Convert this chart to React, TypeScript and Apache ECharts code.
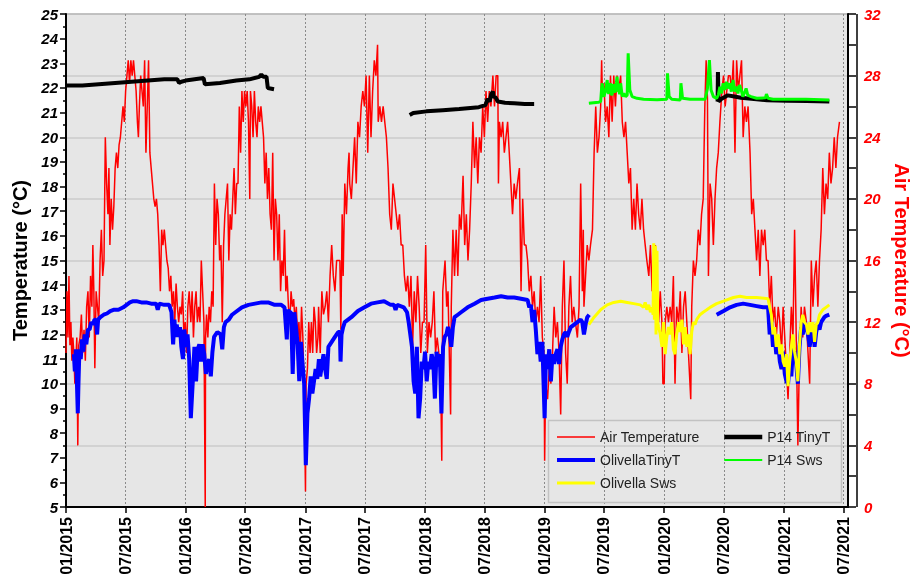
import React, { useEffect, useRef } from "react";
import * as echarts from "echarts";

// x values are days since 01/01/2015
const tickLabels = ["01/2015", "07/2015", "01/2016", "07/2016", "01/2017", "07/2017", "01/2018", "07/2018", "01/2019", "07/2019", "01/2020", "07/2020", "01/2021", "07/2021"];

// Air temperature (right axis, °C)
const airTemperature: number[][] = [
  [0, 10], [3, 14], [6, 11], [9, 15], [12, 10.5], [15, 12], [18, 9.5], [21, 11], [24, 10], [27, 8], [30, 9.5], [33, 11], [36, 4], [39, 10.5], [43, 11], [47, 12.5], [51, 10], [55, 11.5], [59, 9.5], [63, 13], [67, 14], [71, 11], [75, 15], [79, 13], [82, 17], [85, 14], [88, 9], [92, 14], [96, 13], [100, 12], [104, 16], [108, 18], [112, 15], [116, 16], [120, 24], [124, 21], [128, 19], [131, 22], [134, 17], [138, 20], [142, 18], [146, 19.5], [150, 22], [154, 23], [158, 22], [162, 23.5], [166, 24], [170, 25], [174, 26], [178, 25], [182, 27], [186, 28], [190, 29], [194, 27.5], [198, 29], [202, 28], [206, 29], [210, 28], [214, 27], [218, 25], [221, 24], [224, 26], [228, 28], [232, 27], [236, 26], [240, 29], [244, 23], [248, 26], [252, 29], [256, 23], [260, 22], [264, 21], [268, 20], [272, 19.5], [276, 20], [280, 19], [284, 17], [288, 14], [292, 18], [296, 17], [300, 18], [304, 17], [308, 16], [312, 15.5], [316, 14], [320, 15], [324, 13], [328, 14], [332, 12], [336, 14.5], [340, 13], [344, 12], [348, 13], [352, 12.5], [356, 14], [360, 11], [364, 12], [368, 10], [372, 13], [376, 14],
  [377, 14], [381, 12], [385, 14], [389, 11], [393, 13], [397, 14], [401, 12], [405, 13], [409, 12], [413, 16], [417, 14], [421, 12], [425, 0], [426, 11], [429, 12.5], [433, 11], [437, 13], [441, 12], [445, 14], [449, 13], [453, 21], [457, 17], [461, 20], [465, 19], [469, 16], [473, 17], [477, 12], [481, 17], [485, 19], [489, 20], [493, 21], [497, 16], [501, 19], [505, 18], [509, 20], [513, 22], [517, 19], [521, 21], [525, 21], [529, 26], [533, 23], [537, 27], [541, 25], [545, 27], [549, 26], [553, 27], [557, 25], [561, 20], [563, 27], [567, 26], [571, 24], [575, 27], [579, 25], [583, 24], [587, 26], [591, 25], [595, 26], [599, 25], [603, 24], [607, 21], [611, 23], [615, 20], [619, 22], [623, 19], [627, 18], [631, 23], [635, 16], [639, 20], [643, 19], [647, 16], [651, 19], [655, 14], [659, 16], [663, 15], [667, 18], [671, 14], [675, 15], [679, 13], [683, 12], [687, 14], [691, 13], [695, 13.5], [699, 12], [703, 13], [707, 11], [711, 12], [715, 10], [719, 13], [723, 11], [727, 7.3], [731, 1], [733, 8], [737, 9], [741, 12], [745, 10], [749, 12], [753, 10], [757, 13], [761, 12], [765, 10], [769, 11],
  [771, 13], [776, 10], [781, 14], [786, 12.5], [791, 13], [796, 14], [801, 12], [806, 15], [811, 17], [816, 15], [821, 14], [826, 16], [831, 16], [836, 16], [839, 11.5], [843, 19], [846, 15], [851, 21], [856, 19], [861, 22], [864, 23], [866, 21], [871, 20], [876, 22], [881, 24], [886, 21], [891, 25], [896, 24], [901, 26], [906, 27], [911, 26], [916, 28], [921, 23], [926, 28], [931, 24], [936, 27], [941, 29], [946, 28], [951, 30], [953, 25], [958, 26], [963, 25], [968, 26], [973, 25], [978, 24], [983, 22], [988, 19], [993, 18], [998, 21], [1003, 20], [1008, 19], [1013, 18], [1018, 19], [1023, 17], [1028, 17], [1033, 15], [1038, 14], [1043, 15], [1048, 13], [1053, 15], [1058, 10.5], [1063, 14], [1068, 12], [1073, 15], [1078, 13], [1083, 10], [1088, 12], [1093, 12], [1098, 17], [1103, 10], [1108, 12], [1113, 11], [1118, 12], [1123, 14], [1128, 10], [1133, 11], [1138, 10], [1143, 9.5], [1147, 3], [1150, 14], [1157, 16], [1162, 13],
  [1166, 14], [1174, 6], [1176, 13], [1181, 18], [1186, 15], [1191, 18], [1196, 15], [1201, 19], [1206, 18], [1212, 21.5], [1217, 17], [1222, 19], [1227, 16], [1232, 18], [1237, 21], [1242, 25], [1247, 22], [1252, 24], [1257, 21], [1262, 24], [1267, 23], [1272, 26], [1277, 24], [1282, 27], [1287, 25], [1292, 27], [1297, 26], [1303, 28], [1308, 26], [1313, 28], [1318, 28], [1320, 21], [1323, 25], [1328, 24], [1333, 25], [1338, 23], [1343, 24], [1348, 25], [1353, 23], [1358, 21], [1363, 19], [1368, 21], [1373, 20], [1378, 21], [1384, 22], [1389, 14], [1394, 20], [1399, 17], [1404, 17], [1409, 16], [1414, 14], [1419, 15], [1424, 13], [1429, 14], [1434, 12], [1439, 13], [1444, 12], [1449, 15], [1454, 11], [1459, 10], [1461, 3], [1464, 8], [1470, 7], [1475, 9], [1480, 8], [1485, 10], [1490, 13], [1495, 11], [1500, 12], [1505, 10], [1510, 6], [1515, 13], [1520, 16], [1525, 10], [1530, 8], [1535, 13], [1540, 15], [1545, 12], [1550, 13], [1555, 12],
  [1561, 11], [1566, 13], [1571, 21], [1576, 14], [1579, 18], [1581, 13], [1586, 15], [1591, 17], [1596, 16], [1601, 17], [1607, 18], [1612, 23], [1617, 26], [1622, 23], [1627, 24], [1632, 26], [1635, 29], [1637, 27], [1642, 27.5], [1647, 25], [1652, 26], [1657, 24], [1662, 28], [1667, 25], [1672, 28], [1677, 26], [1682, 28], [1687, 27], [1693, 28], [1698, 25], [1703, 24], [1708, 25], [1713, 23], [1718, 21], [1723, 22], [1728, 18], [1733, 20], [1738, 18], [1743, 21], [1748, 19], [1753, 18], [1758, 20], [1763, 18], [1768, 17], [1773, 16], [1779, 15], [1784, 17], [1789, 14], [1794, 15], [1799, 17], [1804, 13], [1809, 12], [1814, 14], [1819, 12], [1822, 8], [1826, 8], [1829, 12], [1834, 13], [1839, 12], [1844, 13], [1849, 12], [1854, 15], [1859, 8], [1864, 13], [1870, 12], [1875, 14], [1880, 10], [1885, 13], [1890, 14], [1895, 12], [1900, 10], [1907, 7], [1910, 13], [1915, 16], [1920, 15], [1925, 16], [1930, 18], [1935, 17], [1940, 19], [1945, 20], [1950, 26], [1954, 29],
  [1958, 26.5], [1961, 15], [1966, 21], [1971, 20], [1976, 17], [1981, 20], [1986, 22], [1991, 23], [1996, 25], [2002, 27], [2007, 28], [2012, 26], [2017, 27], [2022, 28], [2027, 28], [2032, 27], [2037, 29], [2042, 23], [2047, 29], [2052, 27], [2057, 28], [2062, 29], [2067, 24], [2072, 26], [2077, 25], [2082, 26], [2088, 23], [2093, 19], [2098, 20], [2103, 18], [2108, 16], [2113, 18], [2118, 15], [2123, 18], [2128, 17], [2133, 18], [2138, 16], [2143, 16], [2148, 13], [2153, 15], [2158, 12], [2163, 13], [2168, 11], [2174, 13], [2179, 12], [2184, 10], [2189, 13], [2194, 11], [2199, 9], [2204, 7], [2209, 10], [2214, 13], [2219, 11], [2224, 18], [2229, 11], [2234, 4], [2239, 10], [2244, 13], [2249, 11], [2254, 13], [2260, 12], [2265, 10], [2270, 8], [2275, 16], [2280, 13], [2285, 15], [2290, 16], [2295, 13], [2300, 16], [2305, 18], [2310, 22], [2315, 19], [2320, 21], [2325, 20], [2330, 23], [2335, 21], [2340, 22], [2345, 24], [2350, 22], [2355, 24], [2361, 25]
];

// OlivellaTinyT (left axis)
const olivellaTinyT_2015_2019: number[][] = [
  [24, 11.2], [27, 10.5], [30, 11.4], [33, 10.2], [36, 8.8], [38, 10], [41, 11.4], [45, 11], [49, 11.8], [53, 11.3], [57, 12], [62, 11.6], [67, 12.2], [72, 12.2], [77, 12.5], [82, 12.4], [87, 12.6], [91, 12.6], [95, 12.0], [98, 12.6], [105, 12.7], [115, 12.8], [125, 12.85], [135, 12.95], [145, 13.0], [160, 13.0], [175, 13.1], [185, 13.2], [195, 13.3], [205, 13.35], [215, 13.35], [230, 13.3], [245, 13.3], [260, 13.25], [275, 13.25], [280, 13.0], [285, 13.25], [300, 13.2], [315, 13.2], [322, 12.9], [327, 11.6], [331, 12.6], [334, 11.9], [338, 12.4], [343, 11.9], [348, 12.3], [352, 11.5], [357, 11.0], [361, 12.2], [366, 11.5], [371, 12.0], [376, 11.0],
  [381, 8.6], [387, 10.1], [392, 11.5], [397, 10.1], [402, 11.4], [407, 11.6], [412, 10.9], [417, 11.6], [422, 11.2], [427, 10.4], [432, 10.8], [437, 11.0], [442, 10.3], [447, 11.3], [452, 11.9], [462, 12.1], [472, 12.0], [477, 11.4], [482, 12.3], [487, 12.5], [497, 12.6], [507, 12.8], [517, 12.9], [537, 13.1], [557, 13.2], [577, 13.25], [597, 13.3], [617, 13.3], [637, 13.2], [657, 13.2], [667, 13.1], [674, 11.8], [677, 13.0], [682, 12.9], [687, 12.9], [692, 10.4], [697, 12.9], [702, 12.3], [707, 11.6], [712, 10.1], [717, 11.7], [722, 10.8], [727, 10.0], [732, 6.7], [737, 8.8], [742, 9.4], [747, 10.3], [752, 9.6], [757, 10.1], [762, 10.6], [767, 10.2],
  [772, 11.0], [776, 10.3], [786, 11.2], [791, 10.6], [796, 10.2], [801, 11.5], [811, 11.7], [821, 11.9], [831, 12.1], [836, 12.1], [838, 10.9], [841, 12.0], [846, 12.3], [851, 12.5], [871, 12.7], [891, 12.95], [911, 13.1], [931, 13.25], [951, 13.3], [971, 13.35], [991, 13.2], [1001, 13.2], [1006, 13.0], [1011, 13.2], [1031, 13.1], [1041, 12.9], [1046, 12.5], [1051, 12.0], [1056, 11.5], [1061, 10.1], [1066, 9.6], [1071, 11.5], [1076, 8.6], [1081, 9.4], [1086, 10.9], [1091, 10.6], [1096, 11.3], [1101, 10.1], [1106, 10.9], [1111, 10.6], [1116, 11.2], [1121, 10.9], [1126, 9.4], [1131, 11.3], [1136, 10.7], [1141, 11.2], [1146, 8.8], [1151, 11.5], [1156, 11.9], [1161, 12.0],
  [1166, 12.3], [1171, 12.0], [1176, 11.5], [1181, 12.3], [1186, 12.7], [1196, 12.8], [1206, 12.9], [1226, 13.1], [1247, 13.25], [1267, 13.4], [1287, 13.45], [1308, 13.5], [1328, 13.55], [1348, 13.5], [1368, 13.5], [1389, 13.45], [1409, 13.4], [1414, 13.1], [1419, 13.2], [1424, 12.5], [1429, 13.0], [1434, 12.2], [1439, 11.2], [1444, 11.7], [1449, 10.9], [1454, 11.7], [1461, 8.6], [1465, 11.2], [1470, 10.6], [1475, 11.4], [1480, 10.1], [1485, 11.2], [1490, 10.8], [1495, 11.2], [1500, 11.4], [1505, 10.8], [1510, 11.5], [1515, 11.8], [1520, 12.0], [1525, 12.1], [1530, 11.9], [1535, 12.1], [1541, 12.3], [1551, 12.4], [1561, 12.5], [1571, 12.6], [1576, 12.5], [1581, 12.0], [1586, 12.4], [1591, 12.7], [1597, 12.8]
];
const olivellaTinyT_2020_2021: number[][] = [
  [1986, 12.8], [2007, 12.95], [2027, 13.1], [2047, 13.2], [2067, 13.25], [2088, 13.2], [2108, 13.15], [2128, 13.1], [2143, 13.1], [2148, 12.0], [2153, 12.5], [2158, 11.5], [2163, 12.0], [2168, 11.2], [2174, 11.6], [2179, 10.9], [2184, 10.6], [2189, 11.3], [2194, 10.4], [2199, 10.1], [2204, 10.0], [2209, 10.8], [2214, 10.3], [2219, 11.5], [2224, 11.3], [2229, 10.8], [2234, 10.0], [2239, 11.5], [2244, 12.3], [2249, 12.0], [2254, 12.5], [2260, 12.3], [2265, 12.0], [2270, 11.5], [2275, 12.0], [2280, 12.4], [2285, 11.5], [2290, 12.1], [2295, 12.4], [2300, 12.2], [2305, 12.5], [2310, 12.6], [2315, 12.7], [2320, 12.75], [2330, 12.8]
];

// Olivella Sws (left axis)
const olivellaSws: number[][] = [
  [1596, 12.4], [1612, 12.7], [1632, 13.0], [1652, 13.2], [1672, 13.3], [1693, 13.35], [1713, 13.3], [1733, 13.25], [1753, 13.2], [1763, 13.1], [1768, 13.3], [1773, 13.0], [1779, 13.2], [1784, 12.9], [1789, 13.1], [1792, 12.8], [1794, 15.7], [1796, 12.6], [1799, 15.6], [1801, 12.0], [1804, 15.4], [1806, 12.5], [1809, 12.3], [1814, 12.0], [1819, 11.5], [1824, 12.5], [1829, 11.2], [1834, 11.9], [1839, 12.3], [1844, 12.0], [1849, 12.5], [1854, 11.4], [1859, 11.2], [1864, 12.0], [1870, 12.5], [1875, 12.1], [1880, 12.6], [1885, 11.6], [1890, 12.3], [1895, 11.5], [1900, 12.0], [1905, 11.2], [1910, 12.1], [1915, 12.5], [1920, 12.4], [1925, 12.6], [1935, 12.8], [1945, 12.9], [1956, 13.0],
  [1966, 13.1], [1986, 13.25], [2007, 13.35], [2037, 13.5], [2057, 13.55], [2077, 13.5], [2108, 13.5], [2143, 13.45], [2148, 13.1], [2153, 12.8], [2158, 12.0], [2163, 12.3], [2168, 11.5], [2174, 12.0], [2179, 11.2], [2184, 11.6], [2189, 10.9], [2194, 10.7], [2199, 11.2], [2204, 9.9], [2209, 10.9], [2214, 11.5], [2219, 12.0], [2224, 11.3], [2229, 10.9], [2234, 10.1], [2239, 11.6], [2244, 12.5], [2249, 12.8], [2254, 12.5], [2260, 12.4], [2265, 12.0], [2270, 12.5], [2275, 12.1], [2280, 12.5], [2285, 11.7], [2290, 12.4], [2295, 12.5], [2300, 12.8], [2305, 12.9], [2310, 13.0], [2320, 13.1], [2330, 13.2]
];

// P14 TinyT (left axis)
const p14TinyT_2015_2016: number[][] = [
  [0, 22.1], [50, 22.1], [100, 22.15], [150, 22.2], [200, 22.25], [250, 22.3], [300, 22.35], [335, 22.35], [340, 22.35], [345, 22.2], [352, 22.25], [365, 22.3], [420, 22.4], [424, 22.15], [470, 22.2], [520, 22.3], [560, 22.35], [590, 22.45], [596, 22.55], [602, 22.45], [612, 22.45], [616, 22.0], [635, 21.95]
];
const p14TinyT_2017_2018: number[][] = [
  [1049, 20.9], [1060, 20.98], [1100, 21.05], [1150, 21.1], [1200, 21.15], [1260, 21.22], [1280, 21.3], [1287, 21.55], [1293, 21.45], [1298, 21.75], [1303, 21.85], [1306, 21.6], [1310, 21.65], [1318, 21.45], [1340, 21.4], [1368, 21.38], [1400, 21.35], [1429, 21.35]
];
const p14TinyT_2020_2021: number[][] = [
  [1989, 21.45], [1990, 22.65], [1992, 21.45], [2000, 21.55], [2020, 21.7], [2040, 21.65], [2060, 21.6], [2100, 21.55], [2140, 21.5], [2200, 21.48], [2260, 21.47], [2330, 21.45]
];

// P14 Sws (left axis)
const p14Sws: number[][] = [
  [1596, 21.38], [1625, 21.42], [1632, 21.45], [1635, 22.0], [1637, 22.19], [1640, 21.7], [1642, 21.65], [1647, 21.9], [1652, 22.32], [1655, 21.8], [1657, 21.78], [1660, 22.1], [1662, 22.19], [1665, 21.75], [1667, 21.71], [1670, 22.15], [1672, 22.05], [1675, 21.8], [1677, 21.98], [1680, 22.2], [1682, 22.46], [1685, 21.85], [1687, 21.92], [1690, 21.75], [1693, 22.19], [1698, 21.65], [1703, 21.78], [1708, 21.65], [1713, 21.71], [1716, 23.41], [1721, 21.92], [1728, 21.65], [1743, 21.58], [1763, 21.54], [1804, 21.52], [1834, 21.54], [1836, 22.59], [1841, 21.65], [1849, 21.54], [1875, 21.51], [1877, 22.19], [1882, 21.58], [1905, 21.54], [1951, 21.54], [1958, 21.98], [1964, 23.13], [1969, 21.92], [1976, 21.65], [1986, 21.58], [1991, 21.71], [1996, 22.05], [2001, 21.78], [2006, 22.19], [2011, 21.92], [2016, 22.25], [2021, 21.98], [2026, 22.19], [2031, 21.85], [2036, 22.32], [2041, 21.85], [2046, 22.05], [2051, 21.78], [2056, 22.12], [2061, 21.92], [2066, 21.65], [2076, 21.98], [2081, 21.71], [2091, 21.65], [2108, 21.58], [2135, 21.6], [2138, 21.75], [2143, 21.58], [2158, 21.54], [2209, 21.54], [2259, 21.54], [2330, 21.51]
];

const FONT = "Liberation Sans";

function dayOf(label: string): number {
  const [m, y] = label.split("/").map(Number);
  return Math.round((Date.UTC(y, m - 1, 1) - Date.UTC(2015, 0, 1)) / 86400000);
}

function joinSegments(...segs: number[][][]): any[] {
  const out: any[] = [];
  segs.forEach((s, i) => {
    if (i > 0) out.push([s[0][0] - 1, "-"]);
    s.forEach((p) => out.push(p));
  });
  return out;
}

export default function App() {
  const ref = useRef<HTMLDivElement>(null);
  useEffect(() => {
    if (!ref.current) return;
    const chart = echarts.init(ref.current, undefined, { renderer: "svg" });
    const tickDays = tickLabels.map(dayOf);
    const lineSeries = (name: string, data: any[], color: string, width: number, yAxisIndex = 0) => ({
      name,
      type: "line",
      data,
      yAxisIndex,
      symbol: "none",
      showSymbol: false,
      connectNulls: false,
      lineStyle: { color, width },
      itemStyle: { color },
      emphasis: { disabled: true },
    });
    const legendCommon = {
      orient: "vertical",
      top: 430,
      itemWidth: 38,
      itemHeight: 14,
      itemGap: 9,
      padding: 0,
      itemStyle: { opacity: 0, borderWidth: 0 },
      textStyle: { fontFamily: FONT, fontSize: 14, color: "#222" },
    };
    const legendItem = (name: string, width: number) => ({ name, lineStyle: { width } });
    chart.setOption({
      animation: false,
      grid: {
        left: 66,
        right: 68,
        top: 14,
        bottom: 75,
        show: true,
        backgroundColor: "#e6e6e6",
        borderColor: "#555",
        borderWidth: 1,
      },
      xAxis: {
        type: "value",
        min: 0,
        max: 2387,
        axisLine: { show: true, onZero: false, lineStyle: { color: "#000", width: 2 } },
        axisTick: { show: true, customValues: tickDays, length: 6, lineStyle: { color: "#000", width: 1.5 } },
        axisLabel: {
          customValues: tickDays,
          rotate: 90,
          margin: 10,
          fontFamily: FONT,
          fontWeight: "bold",
          fontSize: 16,
          color: "#000",
          formatter: (v: number) => {
            const i = tickDays.indexOf(Math.round(v));
            return i >= 0 ? tickLabels[i] : "";
          },
        },
        splitLine: { show: true, lineStyle: { color: "#8a8a8a", width: 1, type: [2, 2] } },
      },
      yAxis: [
        {
          type: "value",
          position: "left",
          min: 5,
          max: 25,
          interval: 1,
          name: "Temperature (°C)",
          nameLocation: "middle",
          nameRotate: 90,
          nameGap: 34,
          nameTextStyle: { fontFamily: FONT, fontWeight: "bold", fontSize: 20, color: "#000" },
          axisLine: { show: true, lineStyle: { color: "#000", width: 2 } },
          axisTick: { show: true, length: 6, lineStyle: { color: "#000", width: 1.5 } },
          minorTick: { show: true, splitNumber: 2, length: 3, lineStyle: { color: "#000", width: 1.5 } },
          axisLabel: { fontFamily: FONT, fontWeight: "bold", fontStyle: "italic", fontSize: 15, color: "#000", margin: 8 },
          splitLine: { show: false },
        },
        {
          type: "value",
          position: "right",
          min: 0,
          max: 32,
          interval: 4,
          name: "Air Temperature (°C)",
          nameLocation: "middle",
          nameRotate: -90,
          nameGap: 44,
          nameTextStyle: { fontFamily: FONT, fontWeight: "bold", fontSize: 20, color: "#ff0000" },
          axisLine: { show: true, lineStyle: { color: "#000", width: 2 } },
          axisTick: { show: true, length: 8, lineStyle: { color: "#000", width: 1.5 } },
          minorTick: { show: true, splitNumber: 2, length: 8, lineStyle: { color: "#000", width: 1.5 } },
          axisLabel: { fontFamily: FONT, fontWeight: "bold", fontStyle: "italic", fontSize: 15, color: "#ff0000", margin: 16 },
          splitLine: { show: true, lineStyle: { color: "#cbcbcb", width: 1.5 } },
        },
      ],
      legend: [
        {
          ...legendCommon,
          left: 555,
          data: [legendItem("Air Temperature", 1.5), legendItem("OlivellaTinyT", 4), legendItem("Olivella Sws", 3)],
        },
        {
          ...legendCommon,
          left: 722,
          data: [legendItem("P14 TinyT", 4.5), legendItem("P14 Sws", 2)],
        },
      ],
      graphic: [
        {
          type: "rect",
          left: 546,
          top: 418,
          z: 3,
          shape: { width: 293, height: 82 },
          style: { fill: "none", stroke: "#c2c2c2", lineWidth: 1.5 },
        },
        {
          type: "line",
          z: 10,
          shape: { x1: 857, y1: 14, x2: 857, y2: 507 },
          style: { stroke: "#000", lineWidth: 1.5 },
        },
      ],
      series: [
        lineSeries("Air Temperature", airTemperature, "#ff0000", 1.5, 1),
        lineSeries("OlivellaTinyT", joinSegments(olivellaTinyT_2015_2019, olivellaTinyT_2020_2021), "#0000ff", 4),
        lineSeries("Olivella Sws", olivellaSws, "#ffff00", 3),
        lineSeries("P14 TinyT", joinSegments(p14TinyT_2015_2016, p14TinyT_2017_2018, p14TinyT_2020_2021), "#000000", 4),
        lineSeries("P14 Sws", p14Sws, "#00ff00", 3),
      ],
    });
    return () => chart.dispose();
  }, []);
  return <div ref={ref} style={{ position: "fixed", left: 0, top: 0, width: 920, height: 582 }} />;
}
